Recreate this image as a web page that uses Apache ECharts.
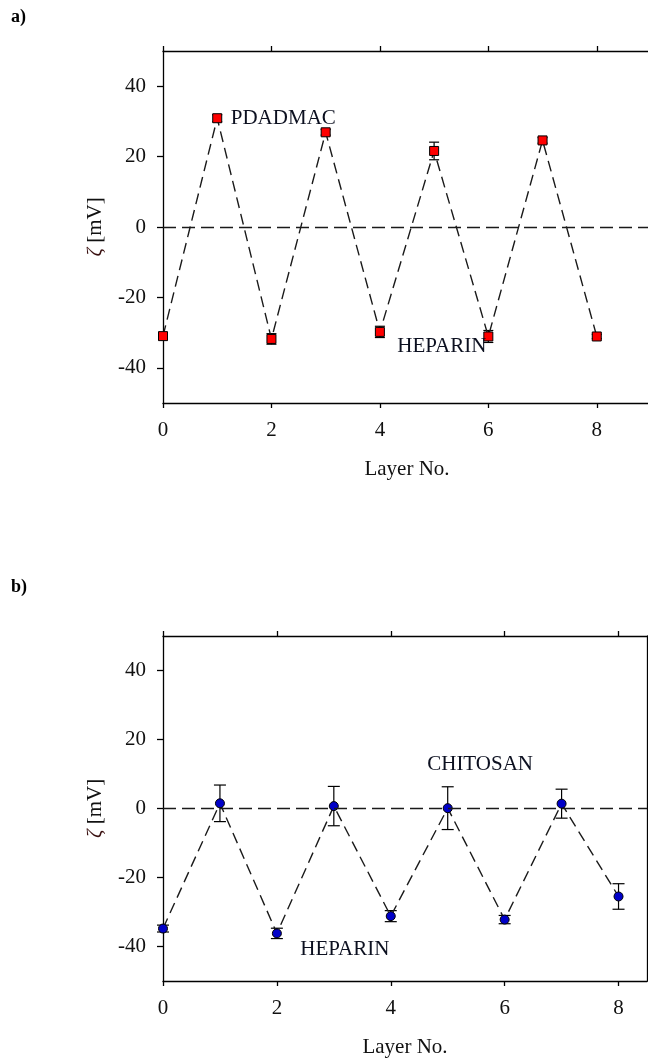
<!DOCTYPE html>
<html>
<head>
<meta charset="utf-8">
<script src="https://cdn.jsdelivr.net/npm/echarts@6/dist/echarts.min.js"></script>
<style>
  html, body { margin: 0; padding: 0; background: #fff; overflow: hidden; }
  #chart { width: 700px; height: 1059px; }
</style>
</head>
<body>
<div id="chart"></div>
<script>
// Zeta potential of the multilayer after each deposited layer
const layers = [0, 1, 2, 3, 4, 5, 6, 7, 8];

// a) PDADMAC / heparin
const zetaA = [-31.0, 30.9, -31.8, 26.9, -29.8, 21.6, -31.1, 24.6, -31.1];
const errA  = [1.0, 1.0, 1.5, 0.8, 1.6, 2.5, 1.7, 0.8, 0.6];

// b) chitosan / heparin
const zetaB = [-34.8, 1.5, -36.2, 0.7, -31.2, 0.1, -32.2, 1.4, -25.5];
const errB  = [1.0, 5.3, 1.5, 5.7, 1.6, 6.2, 1.2, 4.2, 3.7];

// tick labels
const xTicks = [0, 2, 4, 6, 8];
const yTicks = [-40, -20, 0, 20, 40];

// in-plot annotations: [text, layer, zeta]
const notesA = [['PDADMAC', 1.25, 30.9], ['HEPARIN', 4.32, -34.0]];
const notesB = [['CHITOSAN', 4.64, 12.9], ['HEPARIN', 2.41, -40.9]];

const FONT = 'Liberation Serif, Times New Roman, serif';
const INK = '#111';

const chart = echarts.init(document.getElementById('chart'), null, { renderer: 'canvas' });

function xAxes(gridIndex, xMax) {
  return [
    {
      type: 'value', gridIndex, position: 'bottom', min: 0, max: xMax,
      name: 'Layer No.', nameLocation: 'middle', nameGap: 56,
      nameTextStyle: { fontFamily: FONT, fontSize: 21, color: INK },
      axisLine: { show: true, onZero: false, lineStyle: { color: '#000', width: 1.3 } },
      axisTick: { show: true, inside: false, length: 5, customValues: xTicks, lineStyle: { color: '#000', width: 1.3 } },
      axisLabel: { customValues: xTicks, margin: 17, fontFamily: FONT, fontSize: 21, color: INK },
      splitLine: { show: false }
    },
    {
      type: 'value', gridIndex, position: 'top', min: 0, max: xMax,
      axisLine: { show: true, onZero: false, lineStyle: { color: '#000', width: 1.3 } },
      axisTick: { show: true, inside: false, length: 5, customValues: xTicks, lineStyle: { color: '#000', width: 1.3 } },
      axisLabel: { show: false },
      splitLine: { show: false }
    }
  ];
}

function yAxes(gridIndex) {
  return [
    {
      type: 'value', gridIndex, position: 'left', min: -50, max: 50,
      name: '{z|ζ} [mV]', nameLocation: 'middle', nameRotate: 90, nameGap: 57,
      nameTextStyle: {
        fontFamily: FONT, fontSize: 21, color: INK,
        rich: { z: { fontFamily: FONT, fontSize: 21, fontStyle: 'italic', color: '#3a1010' } }
      },
      axisLine: { show: true, onZero: false, lineStyle: { color: '#000', width: 1.3 } },
      axisTick: { show: true, inside: false, length: 6, customValues: yTicks, lineStyle: { color: '#000', width: 1.3 } },
      axisLabel: { customValues: yTicks, margin: 17, fontFamily: FONT, fontSize: 21, color: INK },
      splitLine: { show: false }
    },
    {
      type: 'value', gridIndex, position: 'right', min: -50, max: 50,
      axisLine: { show: true, onZero: false, lineStyle: { color: '#000', width: 1.3 } },
      axisTick: { show: false }, axisLabel: { show: false }, splitLine: { show: false }
    }
  ];
}

function errorBars(xAxisIndex, yAxisIndex, zeta, err, capHalf) {
  return {
    type: 'custom', xAxisIndex, yAxisIndex, z: 3, silent: true, clip: false,
    data: layers.map((l, i) => [l, zeta[i], err[i]]),
    encode: { x: 0, y: 1 },
    renderItem(params, api) {
      const x = api.value(0), y = api.value(1), e = api.value(2);
      const hi = api.coord([x, y + e]);
      const lo = api.coord([x, y - e]);
      const st = { stroke: '#000', lineWidth: 1.2 };
      return {
        type: 'group',
        children: [
          { type: 'line', shape: { x1: hi[0], y1: hi[1], x2: lo[0], y2: lo[1] }, style: st },
          { type: 'line', shape: { x1: hi[0] - capHalf, y1: hi[1], x2: hi[0] + capHalf, y2: hi[1] }, style: st },
          { type: 'line', shape: { x1: lo[0] - capHalf, y1: lo[1], x2: lo[0] + capHalf, y2: lo[1] }, style: st }
        ]
      };
    }
  };
}

function profile(xAxisIndex, yAxisIndex, zeta, symbol, fill, size) {
  return {
    type: 'line', xAxisIndex, yAxisIndex, z: 4,
    data: layers.map((l, i) => [l, zeta[i]]),
    symbol, symbolSize: size, showSymbol: true,
    lineStyle: { color: '#1a1a1a', width: 1.4, type: [11, 6] },
    itemStyle: { color: fill, borderColor: '#000', borderWidth: 1 },
    markLine: {
      silent: true, symbol: ['none', 'none'], label: { show: false },
      lineStyle: { color: '#1a1a1a', width: 1.4, type: [13, 6] },
      data: [{ yAxis: 0 }]
    }
  };
}

function notes(xAxisIndex, yAxisIndex, list) {
  return {
    type: 'scatter', xAxisIndex, yAxisIndex, z: 6, silent: true,
    symbolSize: 0,
    data: list.map(n => ({ name: n[0], value: [n[1], n[2]] })),
    label: {
      show: true, position: 'right', distance: 0, align: 'left', verticalAlign: 'middle',
      formatter: p => p.name,
      fontFamily: FONT, fontSize: 21, color: '#0c1020',
      textBorderWidth: 0, opacity: 1
    }
  };
}

chart.setOption({
  animation: false,
  backgroundColor: '#fff',
  grid: [
    { left: 163, top: 51, width: 488, height: 352 },
    { left: 163, top: 636, width: 484, height: 348 }
  ],
  xAxis: [...xAxes(0, 9), ...xAxes(1, 8.5)],
  yAxis: [...yAxes(0), ...yAxes(1)],
  graphic: [
    { type: 'text', left: 11, top: 8, style: { text: 'a)', font: 'bold 18px ' + FONT, fill: '#000' } },
    { type: 'text', left: 11, top: 578, style: { text: 'b)', font: 'bold 18px ' + FONT, fill: '#000' } }
  ],
  series: [
    profile(0, 0, zetaA, 'rect', '#ff0000', 9),
    errorBars(0, 0, zetaA, errA, 5),
    notes(0, 0, notesA),
    profile(2, 2, zetaB, 'circle', '#0000c8', 9),
    errorBars(2, 2, zetaB, errB, 6),
    notes(2, 2, notesB)
  ]
});
</script>
</body>
</html>
